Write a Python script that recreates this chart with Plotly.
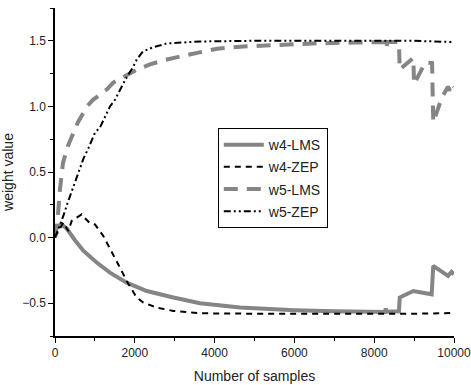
import plotly.graph_objects as go

# ---- data ----
w4_lms_x = [0, 80, 170, 290, 500, 710, 1045, 1378, 1796, 2300, 2966, 3634, 4637, 5500, 6000, 7000, 8000, 8270, 8290, 8310, 8620, 8640, 8980, 9040, 9440, 9480, 9850, 9940, 10000]
w4_lms_y = [0.06, 0.09, 0.10, 0.07, -0.02, -0.10, -0.19, -0.267, -0.343, -0.407, -0.457, -0.50, -0.533, -0.548, -0.553, -0.562, -0.567, -0.567, -0.54, -0.565, -0.562, -0.457, -0.407, -0.41, -0.432, -0.216, -0.292, -0.262, -0.28]

w4_zep_x = [0, 209, 334, 418, 668, 710, 877, 1003, 1211, 1462, 1629, 1796, 1921, 2047, 2214, 2548, 2966, 3634, 5000, 7000, 8000, 8300, 9000, 10000]
w4_zep_y = [0, 0.116, 0.05, 0.127, 0.177, 0.16, 0.11, 0.10, 0.012, -0.127, -0.23, -0.33, -0.39, -0.457, -0.495, -0.533, -0.559, -0.577, -0.58, -0.58, -0.582, -0.585, -0.58, -0.575]

w5_lms_x = [0, 60, 125, 200, 326, 451, 576, 802, 952, 1303, 1454, 1805, 2055, 2381, 2707, 3133, 3709, 4060, 4637, 5500, 6466, 7500, 8145, 8280, 8300, 8330, 8620, 8640, 8980, 9000, 9280, 9450, 9480, 9700, 9850, 9900, 9950, 10000]
w5_lms_y = [0.0, 0.12, 0.37, 0.57, 0.70, 0.80, 0.88, 1.0, 1.05, 1.13, 1.18, 1.24, 1.28, 1.32, 1.35, 1.38, 1.42, 1.44, 1.455, 1.47, 1.48, 1.487, 1.49, 1.49, 1.44, 1.49, 1.49, 1.28, 1.37, 1.17, 1.335, 1.33, 0.88, 1.07, 1.15, 1.12, 1.17, 1.15]

w5_zep_x = [0, 125, 209, 334, 459, 585, 710, 835, 1003, 1128, 1378, 1504, 1754, 1955, 2055, 2205, 2456, 2807, 3208, 3634, 5000, 7000, 9000, 10000]
w5_zep_y = [0, 0.09, 0.165, 0.28, 0.39, 0.495, 0.60, 0.68, 0.80, 0.84, 1.0, 1.05, 1.2, 1.30, 1.36, 1.42, 1.45, 1.48, 1.49, 1.495, 1.5, 1.5, 1.5, 1.49]

GRAY = "#858585"

fig = go.Figure()
fig.add_trace(go.Scatter(x=w4_lms_x, y=w4_lms_y, mode="lines", name="w4-LMS", legendgroup="a",
                         line=dict(color=GRAY, width=4, dash="solid")))
fig.add_trace(go.Scatter(x=w4_zep_x, y=w4_zep_y, mode="lines", name="w4-ZEP", legendgroup="b",
                         line=dict(color="black", width=2, dash="6px,5px")))
fig.add_trace(go.Scatter(x=w5_lms_x, y=w5_lms_y, mode="lines", name="w5-LMS", legendgroup="c",
                         line=dict(color=GRAY, width=4, dash="14px,9px")))
fig.add_trace(go.Scatter(x=w5_zep_x, y=w5_zep_y, mode="lines", name="w5-ZEP", legendgroup="d",
                         line=dict(color="black", width=2, dash="7px,3px,2px,3px,2px,3px")))

axis_font = dict(family="Liberation Sans, Arial, sans-serif", size=12, color="#222")

fig.update_layout(
    width=471, height=385,
    margin=dict(l=55, r=17, t=8, b=49),
    paper_bgcolor="white", plot_bgcolor="white",
    font=dict(family="Liberation Sans, Arial, sans-serif", size=12, color="#222"),
    showlegend=True,
    legend=dict(x=0.408, y=0.634, xanchor="left", yanchor="top",
                bgcolor="white", bordercolor="black", borderwidth=1,
                font=dict(size=14, color="#222"), traceorder="grouped",
                tracegroupgap=1, itemwidth=40),
    xaxis=dict(range=[0, 10000], tickmode="linear", tick0=0, dtick=2000,
               tickformat="d", automargin=False, ticklabeloverflow="allow",
               showline=True, linecolor="black", linewidth=1.5, mirror=False,
               ticks="outside", ticklen=5, tickcolor="black", tickwidth=1,
               minor=dict(dtick=1000, ticks="outside", ticklen=3, tickcolor="black"),
               showgrid=False, zeroline=False, tickfont=axis_font,
               title=dict(text="Number of samples", font=dict(size=14, color="#222"), standoff=12)),
    yaxis=dict(range=[-0.75, 1.75], tickmode="linear", tick0=-0.5, dtick=0.5,
               tickformat=".1f", automargin=False,
               showline=True, linecolor="black", linewidth=1.5, mirror=False,
               ticks="outside", ticklen=5, tickcolor="black", tickwidth=1,
               minor=dict(dtick=0.25, ticks="outside", ticklen=3, tickcolor="black"),
               showgrid=False, zeroline=False, tickfont=axis_font,
               title=dict(text="weight value", font=dict(size=14, color="#222"), standoff=12)),
)

# remove the page's default 8px body margin so the 471x385 figure fills the window exactly
fig.write_html("out.html",
               config={"displayModeBar": False},
               post_script="document.body.style.margin='0';document.body.style.overflow='hidden';")
